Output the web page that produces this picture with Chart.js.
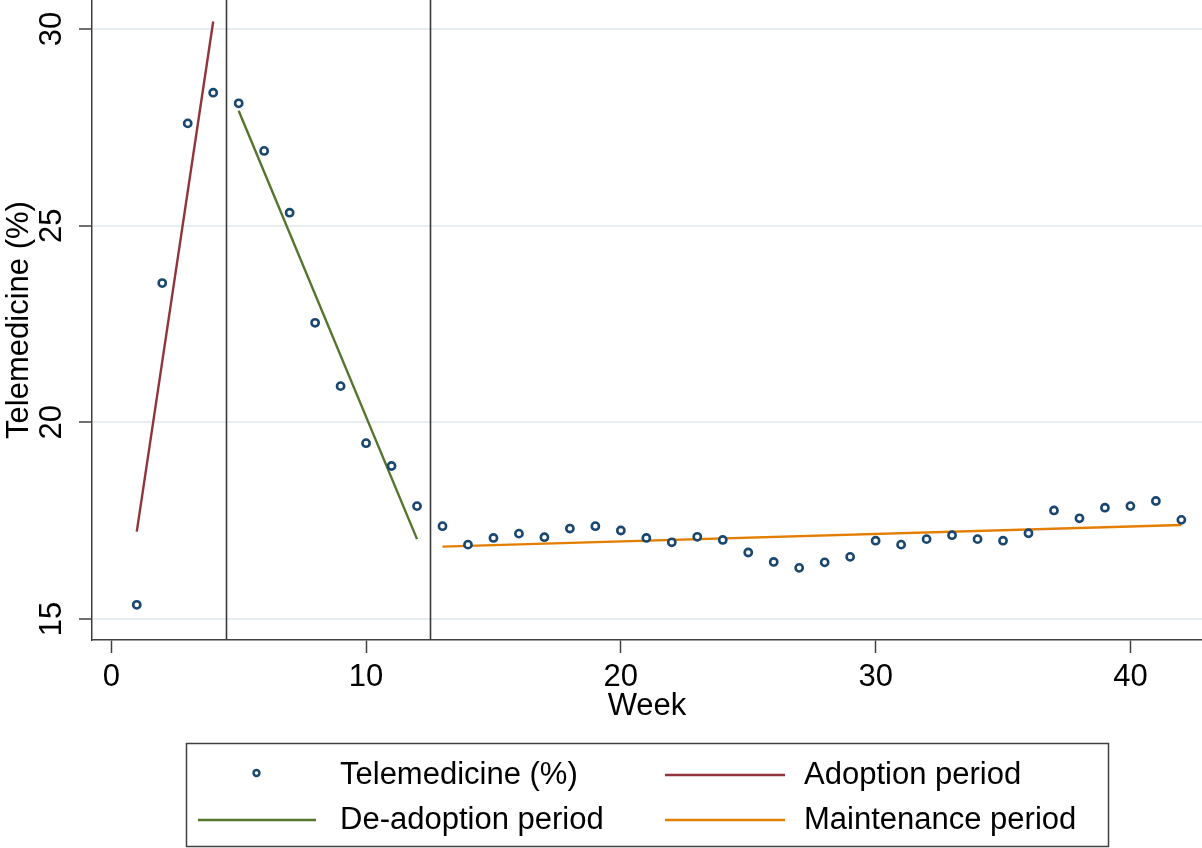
<!DOCTYPE html>
<html><head><meta charset="utf-8">
<script src="https://cdn.jsdelivr.net/npm/chart.js@4.4.1/dist/chart.umd.min.js"></script>
<style>html,body{margin:0;padding:0;background:#fff;overflow:hidden}#wrap{position:relative;width:1202px;height:848px}</style>
</head><body><div id="wrap"><canvas id="c" width="1202" height="848"></canvas></div>
<script>
// ---- data ----
const weeks = [1,2,3,4,5,6,7,8,9,10,11,12,13,14,15,16,17,18,19,20,21,22,23,24,25,26,27,28,29,30,31,32,33,34,35,36,37,38,39,40,41,42];
const telemedicine = [15.36,23.54,27.60,28.38,28.11,26.90,25.33,22.53,20.92,19.47,18.89,17.87,17.36,16.89,17.06,17.17,17.08,17.30,17.36,17.25,17.06,16.95,17.09,17.01,16.69,16.45,16.30,16.44,16.58,16.99,16.89,17.03,17.13,17.03,16.99,17.18,17.76,17.56,17.83,17.87,18.00,17.52];
const adoptionX = [1, 4];
const adoptionY = [17.22, 30.19];
const deadoptionX = [5, 12];
const deadoptionY = [27.92, 17.03];
const maintenanceX = [13, 42];
const maintenanceY = [16.84, 17.39];
const periodBreaks = [4.5, 12.5];
const xTicks = [0, 10, 20, 30, 40];
const yTicks = [15, 20, 25, 30];
const seriesLabels = ['Telemedicine (%)', 'Adoption period', 'De-adoption period', 'Maintenance period'];
const xTitle = 'Week';
const yTitle = 'Telemedicine (%)';

// ---- styles ----
const FONT = '"Liberation Sans", Arial, sans-serif';
const FS = 31;
const C_NAVY = '#1a476f', C_RED = '#90353b', C_GREEN = '#55752f', C_ORANGE = '#e37e00';
const AXIS = '#404040';

const pts = (xs, ys) => xs.map((x, i) => ({x, y: ys[i]}));

const datasets = [
  {label: seriesLabels[0], data: pts(weeks, telemedicine), showLine: false,
   pointRadius: 3.6, pointBorderWidth: 2.6, pointBorderColor: C_NAVY, pointBackgroundColor: '#fff', pointStyle: 'circle'},
  {label: seriesLabels[1], data: pts(adoptionX, adoptionY), showLine: true, borderColor: C_RED, borderWidth: 2.4, pointRadius: 0},
  {label: seriesLabels[2], data: pts(deadoptionX, deadoptionY), showLine: true, borderColor: C_GREEN, borderWidth: 2.4, pointRadius: 0},
  {label: seriesLabels[3], data: pts(maintenanceX, maintenanceY), showLine: true, borderColor: C_ORANGE, borderWidth: 2.4, pointRadius: 0}
];

const breakLines = {
  id: 'breakLines',
  beforeDatasetsDraw(chart) {
    const {ctx, chartArea: a, scales: {x}} = chart;
    ctx.save();
    ctx.strokeStyle = '#3a3a3a';
    ctx.lineWidth = 1.6;
    periodBreaks.forEach(v => {
      const px = Math.round(x.getPixelForValue(v)) + 0.5;
      ctx.beginPath(); ctx.moveTo(px, a.top); ctx.lineTo(px, a.bottom); ctx.stroke();
    });
    ctx.restore();
  }
};

const yLabels = {
  id: 'yLabels',
  afterDraw(chart) {
    const {ctx, scales: {y}} = chart;
    ctx.save();
    ctx.fillStyle = '#000';
    ctx.font = FS + 'px ' + FONT;
    ctx.textAlign = 'center';
    ctx.textBaseline = 'middle';
    y.ticks.forEach(t => {
      const py = y.getPixelForValue(t.value);
      ctx.save(); ctx.translate(52, py); ctx.rotate(-Math.PI / 2);
      ctx.fillText(String(t.value), 0, 0);
      ctx.restore();
    });
    ctx.restore();
  }
};

const boxLegend = {
  id: 'boxLegend',
  afterDraw(chart) {
    const {ctx} = chart;
    const ds = chart.data.datasets;
    ctx.save();
    ctx.strokeStyle = AXIS; ctx.lineWidth = 1.5;
    ctx.strokeRect(186.5, 743.5, 922, 103);
    const cols = [{sx0: 198, sx1: 316, tx: 340}, {sx0: 665, sx1: 785, tx: 804}];
    const rows = [775, 820];
    ctx.font = FS + 'px ' + FONT;
    ctx.textBaseline = 'middle';
    ctx.textAlign = 'left';
    ds.forEach((d, i) => {
      const c = cols[i % 2], ry = rows[Math.floor(i / 2)];
      if (d.showLine) {
        ctx.strokeStyle = d.borderColor; ctx.lineWidth = d.borderWidth;
        ctx.beginPath(); ctx.moveTo(c.sx0, ry); ctx.lineTo(c.sx1, ry); ctx.stroke();
      } else {
        ctx.strokeStyle = d.pointBorderColor; ctx.lineWidth = 2.4;
        ctx.beginPath(); ctx.arc((c.sx0 + c.sx1) / 2 - 0.5, ry - 2, 3.0, 0, Math.PI * 2); ctx.stroke();
      }
      ctx.fillStyle = '#000';
      ctx.fillText(d.label, c.tx, ry);
    });
    ctx.restore();
  }
};

new Chart(document.getElementById('c'), {
  type: 'scatter',
  data: {datasets},
  plugins: [breakLines, yLabels, boxLegend],
  options: {
    responsive: false,
    animation: false,
    devicePixelRatio: 1,
    layout: {padding: 0, autoPadding: false},
    plugins: {legend: {display: false}, tooltip: {enabled: false}},
    scales: {
      x: {
        type: 'linear', min: -0.757, max: 42.81,
        afterBuildTicks: s => { s.ticks = xTicks.map(v => ({value: v})); },
        afterFit: s => { s.height = 208; s.paddingLeft = 0; s.paddingRight = 0; },
        grid: {drawOnChartArea: false, drawTicks: true, tickLength: 13, tickColor: AXIS, tickWidth: 1.5},
        border: {color: AXIS, width: 1.5},
        ticks: {font: {family: FONT, size: FS}, color: '#000', padding: 6, maxRotation: 0, autoSkip: false},
        title: {display: true, text: xTitle, font: {family: FONT, size: FS}, color: '#000', padding: {top: 0, bottom: 123}}
      },
      y: {
        type: 'linear', min: 14.466, max: 30.737,
        afterBuildTicks: s => { s.ticks = yTicks.map(v => ({value: v})); },
        afterFit: s => { s.width = 92; s.paddingTop = 0; s.paddingBottom = 0; },
        grid: {color: '#e6eef1', lineWidth: 2, drawTicks: true, tickLength: 13, tickColor: AXIS, tickWidth: 1.5},
        border: {color: AXIS, width: 1.5},
        ticks: {display: false},
        title: {display: true, text: yTitle, font: {family: FONT, size: FS}, color: '#000', padding: {top: 1, bottom: 0}}
      }
    }
  }
});
</script>
</body></html>
